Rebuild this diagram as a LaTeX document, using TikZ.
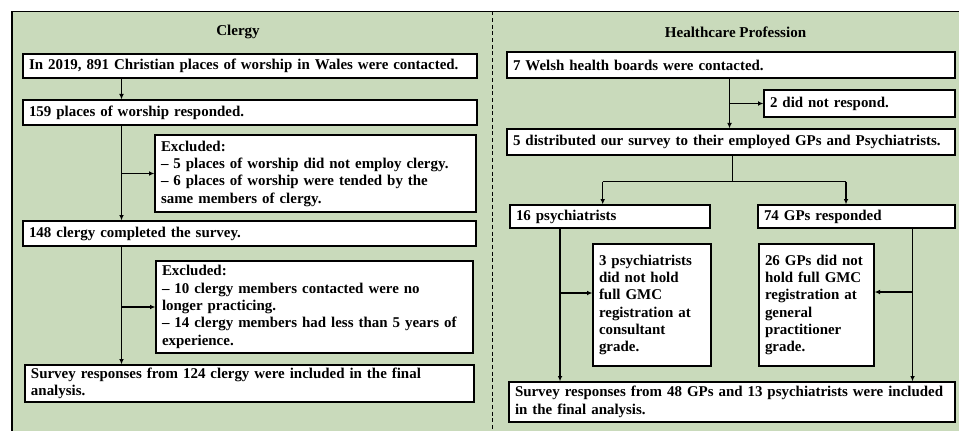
\documentclass[tikz,border=0pt]{standalone}
\usepackage{fontspec}
\setmainfont{Liberation Serif}
\usetikzlibrary{arrows.meta,calc}
\definecolor{bggreen}{RGB}{201,218,187}
\newcommand\mybox[6]{%
  \pgfmathsetmacro\myBW{(#4-#2)*0.75}%
  \pgfmathsetmacro\myBH{(#5-#3)*0.75}%
  \pgfmathsetmacro\myTW{(#4-#2)*0.75-9}%
  \node[box,minimum width=\myBW pt,minimum height=\myBH pt,text width=\myTW pt] (#1) at ({(#2+#4)/2},{(#3+#5)/2}) {#6};}
\begin{document}
\begin{tikzpicture}[x=0.75pt,y=-0.75pt,
  box/.style={draw,line width=1pt,fill=white,inner xsep=4.5pt,inner ysep=0pt,align=left,
    font=\bfseries\fontsize{11.2}{13}\selectfont},
  arr/.style={line width=0.9pt,-{Latex[length=4pt,width=3.6pt]}},
  ln/.style={line width=0.9pt},
  ttl/.style={font=\bfseries\fontsize{11.3}{13}\selectfont}]
\useasboundingbox (0,0) rectangle (959,431);
\clip (0,0) rectangle (959,431);
\draw[line width=1.2pt,fill=bggreen] (12,11.5) rectangle (965,440);
\draw[line width=0.9pt,dash pattern=on 3pt off 2pt] (492.5,11.5) -- (492.5,431);
\node[ttl] (t1) at (238,32) {Clergy};
\node[ttl] (t2) at (735.5,32) {Healthcare Profession};
% Clergy
\mybox{c1}{23}{54}{477}{78}{In 2019, 891 Christian places of worship in Wales were contacted.}
\mybox{c2}{23}{100}{477}{125}{159 places of worship responded.}
\mybox{ce1}{155}{135}{476}{212}{Excluded:\\-- 5 places of worship did not employ clergy.\\-- 6 places of worship were tended by the\\same members of clergy.}
\mybox{c3}{23}{221}{476}{246}{148 clergy completed the survey.}
\mybox{ce2}{156}{261}{473}{353}{Excluded:\\-- 10 clergy members contacted were no\\longer practicing.\\-- 14 clergy members had less than 5 years of\\experience.}
\mybox{c4}{25}{365}{474}{402}{Survey responses from 124 clergy were included in the final\\analysis.}
\coordinate (cx) at (121.5,0);
\draw[arr] (c1.south -| cx) -- (c2.north -| cx);
\draw[arr] (c2.south -| cx) -- (c3.north -| cx);
\draw[arr] (cx |- ce1.west) -- (ce1.west);
\draw[arr] (c3.south -| cx) -- (c4.north -| cx);
\draw[arr] (cx |- ce2.west) -- (ce2.west);
% Healthcare
\mybox{h1}{507}{52}{955}{78}{7 Welsh health boards were contacted.}
\mybox{h2}{764}{90}{955}{117}{2 did not respond.}
\mybox{h3}{507}{129}{955}{155}{5 distributed our survey to their employed GPs and Psychiatrists.}
\mybox{h4}{510}{205}{710}{228}{16 psychiatrists}
\mybox{h5}{758}{205}{955}{228}{74 GPs responded}
\mybox{h6}{593}{244}{711}{366}{3 psychiatrists\\did not hold\\full GMC\\registration at\\consultant\\grade.}
\mybox{h7}{759}{244}{874}{366}{26 GPs did not\\hold full GMC\\registration at\\general\\practitioner\\grade.}
\mybox{h8}{509}{382}{955}{422}{Survey responses from 48 GPs and 13 psychiatrists were included\\in the final analysis.}
\coordinate (hx) at (729.5,0);
\draw[arr] (h1.south -| hx) -- (h3.north -| hx);
\draw[arr] (hx |- h2.west) -- (h2.west);
\coordinate (hj) at (732.5,181.5);
\coordinate (hl) at (602.7,181.5);
\coordinate (hr) at (846,181.5);
\draw[ln] (h3.south -| hj) -- (hj);
\draw[ln] (hl) -- (hr);
\draw[arr] (hl) -- (h4.north -| hl);
\draw[arr] (hr) -- (h5.north -| hr);
\coordinate (px) at (560,293);
\coordinate (gx) at (912.5,292);
\draw[arr] (h4.south -| px) -- (h8.north -| px);
\draw[arr] (px) -- (px -| h6.west);
\draw[arr] (h5.south -| gx) -- (h8.north -| gx);
\draw[arr] (gx) -- (gx -| h7.east);
\end{tikzpicture}
\end{document}
